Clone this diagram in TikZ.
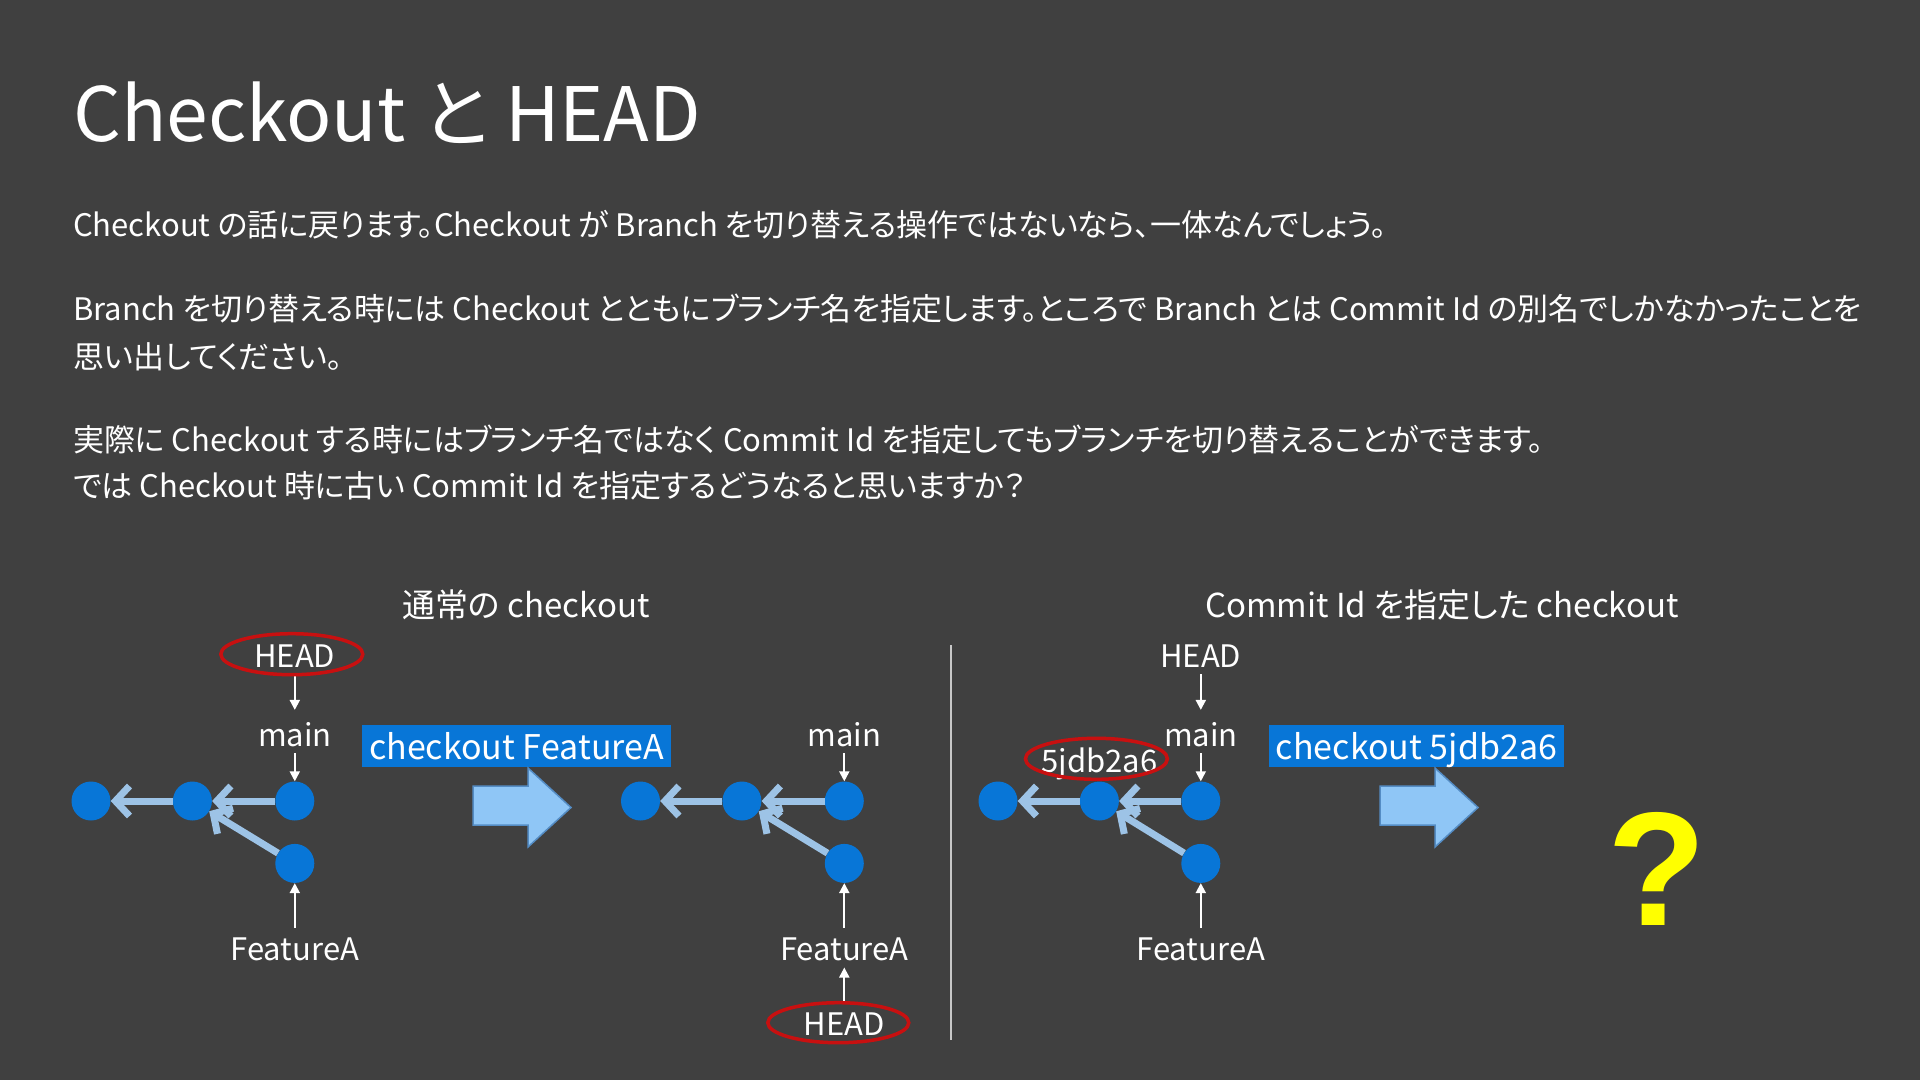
\documentclass[tikz,border=0pt]{standalone}
\usepackage{fontspec}
\setmainfont{Noto Sans CJK JP}[RawFeature={+palt}]
\newfontfamily\qfont{Liberation Sans}
\usetikzlibrary{arrows.meta,positioning}

\definecolor{slidebg}{RGB}{64,64,64}
\definecolor{commitblue}{RGB}{8,118,215}
\definecolor{edgeblue}{RGB}{157,195,230}
\definecolor{arrowfill}{RGB}{143,198,246}
\definecolor{arrowline}{RGB}{84,140,196}
\definecolor{markred}{RGB}{200,16,16}
\definecolor{divgray}{RGB}{200,200,200}
\definecolor{qyellow}{RGB}{255,255,0}

\begin{document}
\begin{tikzpicture}[
    x=1pt, y=-1pt,
    node distance=62pt,
    commit/.style={circle, fill=commitblue, minimum size=39pt, inner sep=0pt},
    parent/.style={draw=edgeblue, line width=7pt, -{Straight Barb[length=14pt,width=30pt]}},
    refname/.style={text=white, font=\fontsize{31}{36}\selectfont, inner sep=0pt, text height=22.5pt, text depth=6.5pt},
    pointer/.style={draw=white, line width=2pt, -{Triangle[length=10pt,width=10pt]}},
    ring/.style={draw=markred, line width=3.5pt},
    cmd/.style={fill=commitblue, text=white, font=\fontsize{34}{40}\selectfont, inner xsep=7pt, inner ysep=0pt, text height=34pt, text depth=8pt},
    para/.style={text=white, font=\fontsize{31}{38}\selectfont, inner sep=0pt, anchor=base west},
    heading/.style={text=white, font=\fontsize{33}{40}\selectfont, inner sep=0pt, anchor=base},
    bigarrow/.style={fill=arrowfill, draw=arrowline, line width=1.5pt}
  ]
  \useasboundingbox (0,0) rectangle (1920,1080);
  \fill[slidebg] (0,0) rectangle (1920,1080);

  % title and text
  \node[para, font=\fontsize{75}{85}\selectfont] (title) at (73,141) {Checkout と HEAD};
  \node[para] (l1) at (73,236) {Checkout の話に戻ります。Checkout が Branch を切り替える操作ではないなら、一体なんでしょう。};
  \node[para] (l2) at (73,320) {Branch を切り替える時には Checkout とともにブランチ名を指定します。ところで Branch とは Commit Id の別名でしかなかったことを};
  \node[para] (l3) at (73,368) {思い出してください。};
  \node[para] (l4) at (73,451) {実際に Checkout する時にはブランチ名ではなく Commit Id を指定してもブランチを切り替えることができます。};
  \node[para] (l5) at (73,497) {では Checkout 時に古い Commit Id を指定するどうなると思いますか？};

  \node[heading] (hleft) at (526,617) {通常の checkout};
  \node[heading] (hright) at (1442,617) {Commit Id を指定した checkout};
  \draw[divgray, line width=2pt] (951,645) -- (951,1040);

  % before checkout
  \node[commit] (a1) at (91,801) {};
  \node[commit, right=62pt of a1] (a2) {};
  \node[commit, right=63pt of a2] (a3) {};
  \node[commit, below=23pt of a3] (a4) {};
  \node[refname, above=28pt of a3] (amain) {main};
  \node[refname, above=49.5pt of amain] (ahead) {HEAD};
  \node[refname, below=55pt of a4] (afeat) {FeatureA};
  \draw[parent] (a3) -- (a2);
  \draw[parent] (a4) -- (a2);
  \draw[parent] (a2) -- (a1);
  \draw[pointer, shorten >=14pt] (ahead) -- (amain);
  \draw[pointer] (amain) -- (a3);
  \draw[pointer, shorten <=10pt] (afeat) -- (a4);
  \draw[ring] ([xshift=-3pt,yshift=5.5pt]ahead.center) ellipse [x radius=71, y radius=20.5];

  \node[cmd] (go1) at (516.5,746) {checkout FeatureA};
  \draw[bigarrow] (473,786) -- (528,786) -- (528,768) -- (571,807.5) -- (528,847) -- (528,825) -- (473,825) -- cycle;

  % after checkout FeatureA
  \node[commit] (b1) at (640.5,801) {};
  \node[commit, right=62pt of b1] (b2) {};
  \node[commit, right=63pt of b2] (b3) {};
  \node[commit, below=23pt of b3] (b4) {};
  \node[refname, above=28pt of b3] (bmain) {main};
  \node[refname, below=55pt of b4] (bfeat) {FeatureA};
  \node[refname, below=45.5pt of bfeat] (bhead) {HEAD};
  \draw[parent] (b3) -- (b2);
  \draw[parent] (b4) -- (b2);
  \draw[parent] (b2) -- (b1);
  \draw[pointer] (bmain) -- (b3);
  \draw[pointer, shorten <=10pt] (bfeat) -- (b4);
  \draw[pointer, shorten <=11pt] (bhead) -- (bfeat);
  \draw[ring] ([xshift=-6pt,yshift=5pt]bhead.center) ellipse [x radius=70.5, y radius=20];

  % checkout by commit id
  \node[commit] (c1) at (998,801) {};
  \node[commit, right=62pt of c1] (c2) {};
  \node[commit, right=62pt of c2] (c3) {};
  \node[commit, below=23pt of c3] (c4) {};
  \node[refname, above=28pt of c3] (cmain) {main};
  \node[refname, above=49.5pt of cmain] (chead) {HEAD};
  \node[refname, below=55pt of c4] (cfeat) {FeatureA};
  \node[refname, above=2.3pt of c2] (cid) {5jdb2a6};
  \draw[parent] (c3) -- (c2);
  \draw[parent] (c4) -- (c2);
  \draw[parent] (c2) -- (c1);
  \draw[pointer, shorten >=14pt] (chead) -- (cmain);
  \draw[pointer] (cmain) -- (c3);
  \draw[pointer, shorten <=10pt] (cfeat) -- (c4);
  \draw[ring] ([xshift=-3pt,yshift=5.5pt]cid.center) ellipse [x radius=71, y radius=20.5];

  \node[cmd] (go2) at (1416.5,746) {checkout 5jdb2a6};
  \draw[bigarrow] (1380,786) -- (1435,786) -- (1435,768) -- (1478,807.5) -- (1435,847) -- (1435,825) -- (1380,825) -- cycle;

  \node[text=qyellow, font=\qfont\bfseries\fontsize{162}{170}\selectfont, inner sep=0pt, anchor=base] (what) at (1657,925) {?};
\end{tikzpicture}
\end{document}
